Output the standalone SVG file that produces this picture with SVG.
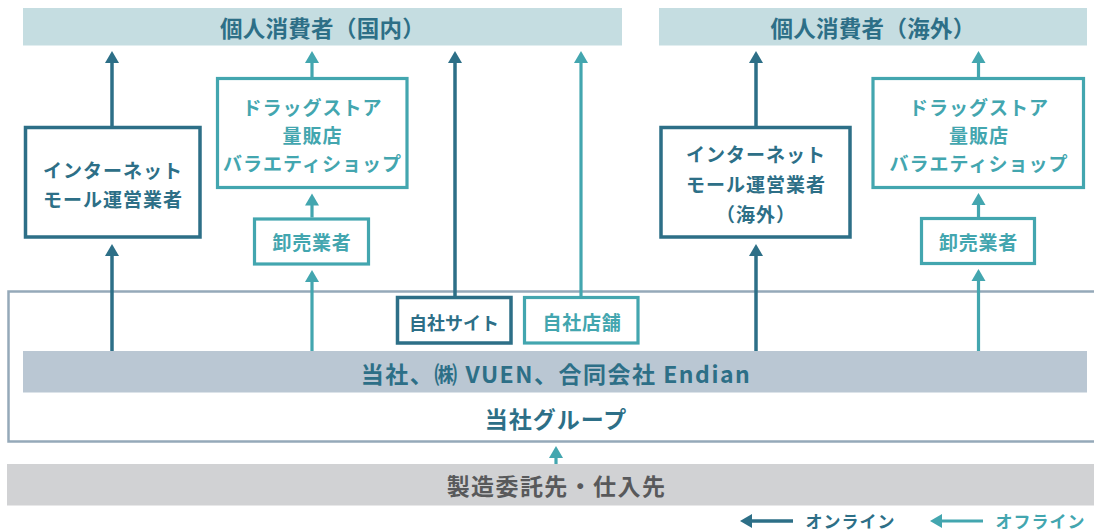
<svg xmlns="http://www.w3.org/2000/svg" width="1094" height="531" viewBox="0 0 1094 531">
<defs>
<style>
text{font-family:"Noto Sans CJK JP","Noto Sans",sans-serif;font-weight:700;text-anchor:middle;dominant-baseline:central}
.dk{fill:#2d6f87}
.lt{fill:#43a6af}
.gr{fill:#58595b}
.bt{font-size:22.5px;letter-spacing:0.3px}
.mt{font-size:23px;letter-spacing:1.2px}
.nt{font-size:19px;letter-spacing:1px}
.lg{font-size:17px;letter-spacing:1px}
.bd{fill:#fff;stroke:#2d6f87;stroke-width:3.5}
.bl{fill:#fff;stroke:#43a6af;stroke-width:3.2}
.cd{stroke:#2d6f87;stroke-width:3.5;fill:none}
.cl{stroke:#43a6af;stroke-width:3.2;fill:none}
</style>
<marker id="ad" markerUnits="userSpaceOnUse" markerWidth="13" markerHeight="15" viewBox="0 -7.5 13 15" refX="3" refY="0" orient="auto"><path d="M0,-7 L12,0 L0,7 z" fill="#2d6f87"/></marker>
<marker id="al" markerUnits="userSpaceOnUse" markerWidth="13" markerHeight="15" viewBox="0 -7.5 13 15" refX="3" refY="0" orient="auto"><path d="M0,-7 L12,0 L0,7 z" fill="#43a6af"/></marker>
</defs>

<g id="consumer-domestic">
<rect x="23" y="8" width="599" height="37.5" fill="#c5dde1"/>
<text class="bt dk" x="322.5" y="27">個人消費者（国内）</text>
</g>
<g id="consumer-overseas">
<rect x="659" y="8" width="428" height="37.5" fill="#c5dde1"/>
<text class="bt dk" x="873" y="27">個人消費者（海外）</text>
</g>

<g id="group-outline">
<path d="M1100,291.5 H8.5 V441.5 H1100" fill="none" stroke="#95a9b9" stroke-width="2.5"/>
<text class="mt dk" x="556" y="418" style="letter-spacing:1px">当社グループ</text>
</g>

<g id="companies">
<rect x="23" y="351" width="1064" height="41.5" fill="#bac7d3"/>
<text class="mt dk" x="556" y="372.5" style="letter-spacing:1.5px">当社、㈱ VUEN、合同会社 Endian</text>
</g>

<g id="suppliers">
<rect x="7" y="464" width="1087" height="41.5" fill="#d1d2d4"/>
<text class="mt gr" x="556.5" y="485" style="letter-spacing:1.4px">製造委託先・仕入先</text>
</g>

<g id="mall-domestic">
<rect class="bd" x="25.5" y="127.5" width="174.5" height="109.5"/>
<text class="nt dk" x="113" y="169">インターネット</text>
<text class="nt dk" x="113" y="198">モール運営業者</text>
</g>
<g id="retail-domestic">
<rect class="bl" x="217.5" y="78.5" width="189.5" height="109"/>
<text class="nt lt" x="312.5" y="106">ドラッグストア</text>
<text class="nt lt" x="312.5" y="134">量販店</text>
<text class="nt lt" x="312.5" y="162">バラエティショップ</text>
</g>
<g id="wholesale-domestic">
<rect class="bl" x="254.5" y="219" width="114" height="45"/>
<text class="nt lt" x="312" y="241.5" style="letter-spacing:0.7px">卸売業者</text>
</g>

<g id="own-site">
<rect class="bd" x="397.5" y="297.5" width="113.5" height="45.5"/>
<text class="nt dk" x="454" y="321.5" style="font-size:18px;letter-spacing:0">自社サイト</text>
</g>
<g id="own-store">
<rect class="bl" x="524.5" y="297.5" width="113.5" height="45.5"/>
<text class="nt lt" x="582" y="321.5" style="letter-spacing:0.7px">自社店舗</text>
</g>

<g id="mall-overseas">
<rect class="bd" x="661" y="127.5" width="189" height="109.5"/>
<text class="nt dk" x="756" y="153">インターネット</text>
<text class="nt dk" x="756" y="183">モール運営業者</text>
<text class="nt dk" x="756" y="213">（海外）</text>
</g>
<g id="retail-overseas">
<rect class="bl" x="873" y="78.5" width="210.5" height="109"/>
<text class="nt lt" x="979" y="106">ドラッグストア</text>
<text class="nt lt" x="979" y="134">量販店</text>
<text class="nt lt" x="979" y="162">バラエティショップ</text>
</g>
<g id="wholesale-overseas">
<rect class="bl" x="921.5" y="218.5" width="113" height="45"/>
<text class="nt lt" x="978.5" y="241.5" style="letter-spacing:0.7px">卸売業者</text>
</g>

<g id="connectors">
<line class="cd" x1="112" y1="351" x2="112" y2="253" marker-end="url(#ad)"/>
<line class="cd" x1="112" y1="126" x2="112" y2="60" marker-end="url(#ad)"/>
<line class="cd" x1="455" y1="296" x2="455" y2="60" marker-end="url(#ad)"/>
<line class="cd" x1="756" y1="351" x2="756" y2="253" marker-end="url(#ad)"/>
<line class="cd" x1="756" y1="126" x2="756" y2="60" marker-end="url(#ad)"/>
<line class="cl" x1="312" y1="351" x2="312" y2="279" marker-end="url(#al)"/>
<line class="cl" x1="312" y1="217.5" x2="312" y2="202.5" marker-end="url(#al)"/>
<line class="cl" x1="312" y1="77" x2="312" y2="60" marker-end="url(#al)"/>
<line class="cl" x1="581" y1="296" x2="581" y2="60" marker-end="url(#al)"/>
<line class="cl" x1="978.5" y1="351" x2="978.5" y2="278" marker-end="url(#al)"/>
<line class="cl" x1="978.5" y1="217" x2="978.5" y2="202" marker-end="url(#al)"/>
<line class="cl" x1="978.5" y1="77" x2="978.5" y2="60" marker-end="url(#al)"/>
<line class="cl" x1="556" y1="464" x2="556" y2="455" marker-end="url(#al)"/>
</g>

<g id="legend">
<line class="cd" x1="793" y1="521" x2="749" y2="521" marker-end="url(#ad)"/>
<text class="lg dk" x="850.5" y="520.5">オンライン</text>
<line class="cl" x1="983" y1="521" x2="939" y2="521" marker-end="url(#al)"/>
<text class="lg lt" x="1040.5" y="520.5">オフライン</text>
</g>
</svg>
